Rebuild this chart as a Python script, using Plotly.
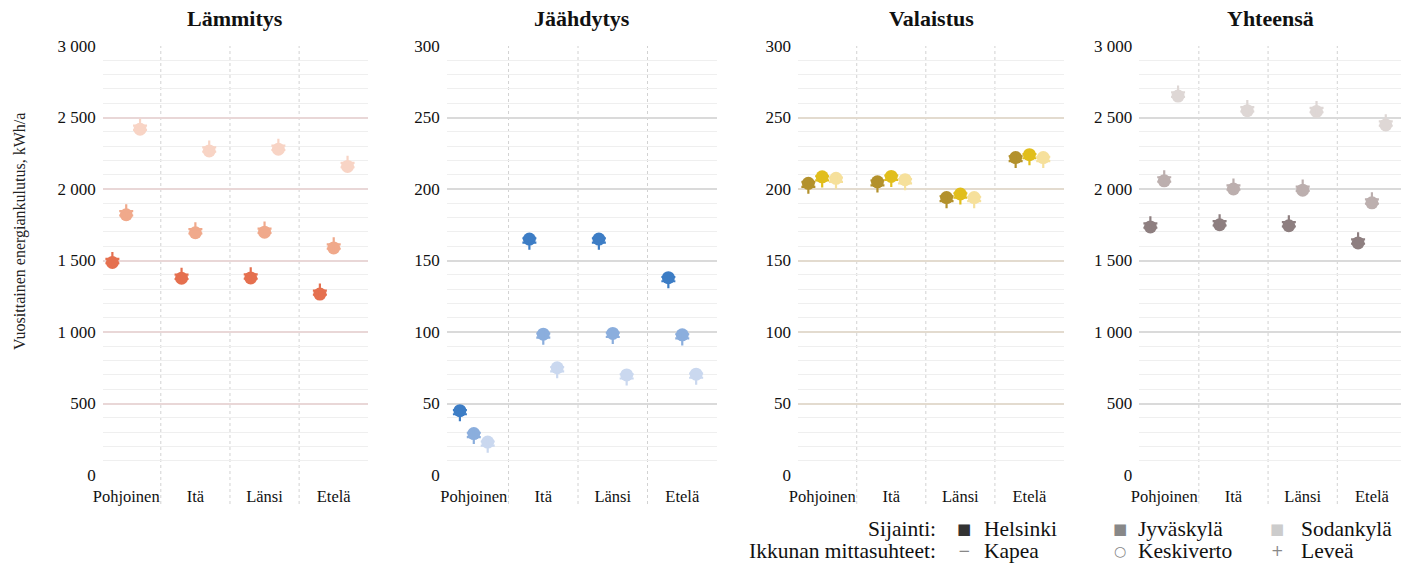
import plotly.graph_objects as go

# ---------------- data ----------------
panels = ["Lämmitys", "Jäähdytys", "Valaistus", "Yhteensä"]
directions = ["Pohjoinen", "Itä", "Länsi", "Etelä"]
locations = ["Helsinki", "Jyväskylä", "Sodankylä"]
ratios = ["Kapea", "Keskiverto", "Leveä"]

# each list: rows = locations (Helsinki, Jyväskylä, Sodankylä), columns = directions
lammitys_kapea      = [[1480, 1370, 1372, 1260], [1814, 1688, 1692, 1582], [2412, 2260, 2272, 2152]]
lammitys_keskiverto = [[1486, 1376, 1378, 1265], [1820, 1694, 1698, 1588], [2418, 2266, 2278, 2158]]
lammitys_levea      = [[1511, 1401, 1403, 1290], [1845, 1719, 1723, 1613], [2443, 2291, 2303, 2183]]

jaahdytys_kapea      = [[45.5, 165.5, 165.5, 138.5], [29.5, 99.0, 99.5, 98.5], [23.5, 75.5, 70.5, 71.0]]
jaahdytys_keskiverto = [[45.0, 165.0, 165.0, 138.0], [29.0, 98.5, 99.0, 98.0], [23.0, 75.0, 70.0, 70.5]]
jaahdytys_levea      = [[42.5, 162.5, 162.5, 135.5], [26.5, 96.0, 96.5, 95.5], [20.5, 72.5, 67.5, 68.0]]

valaistus_kapea      = [[205.0, 206.0, 195.0, 223.0], [209.0, 209.5, 197.0, 224.5], [208.0, 207.0, 194.5, 222.5]]
valaistus_keskiverto = [[204.0, 205.0, 194.0, 222.0], [208.5, 208.8, 196.5, 224.0], [207.5, 206.5, 194.0, 222.0]]
valaistus_levea      = [[201.5, 202.5, 191.5, 219.5], [206.0, 206.3, 194.0, 221.5], [205.0, 204.0, 191.5, 219.5]]

yhteensa_kapea      = [[1729, 1744, 1737, 1617], [2051, 1994, 1986, 1897], [2644, 2542, 2536, 2442]]
yhteensa_keskiverto = [[1735, 1750, 1743, 1623], [2057, 2000, 1992, 1903], [2650, 2548, 2542, 2448]]
yhteensa_levea      = [[1760, 1775, 1768, 1648], [2082, 2025, 2017, 1928], [2675, 2573, 2567, 2473]]

panel_values = [
    [lammitys_kapea, lammitys_keskiverto, lammitys_levea],
    [jaahdytys_kapea, jaahdytys_keskiverto, jaahdytys_levea],
    [valaistus_kapea, valaistus_keskiverto, valaistus_levea],
    [yhteensa_kapea, yhteensa_keskiverto, yhteensa_levea],
]

big_tickvals = [0, 500, 1000, 1500, 2000, 2500, 3000]
big_ticktext = ["0", "500", "1 000", "1 500", "2 000", "2 500", "3 000"]
small_tickvals = [0, 50, 100, 150, 200, 250, 300]
small_ticktext = ["0", "50", "100", "150", "200", "250", "300"]

y_title = "Vuosittainen energiankulutus, kWh/a"

# ---------------- styles ----------------
W, H = 1404, 563
FONT = "Liberation Serif, Times New Roman, serif"

colors = [
    ["#E5704F", "#F0A98B", "#F8D4C5"],
    ["#3D7DC5", "#8BAEDD", "#CAD8EF"],
    ["#B3912C", "#E1BE1C", "#F6E09B"],
    ["#8E7F80", "#BCAFAE", "#DED7D5"],
]
major_grid = ["#E9D7D7", "#DADADA", "#E3DBCF", "#DADADA"]
minor_grid = "#EFEFEF"

dom_px = [(102.7, 368.3), (446.7, 717.0), (798.0, 1064.0), (1139.3, 1401.0)]
xranges = [[-0.34, 3.5], [-0.39, 3.5], [-0.35, 3.5], [-0.36, 3.42]]
y_dom = [(H - 475) / H, (H - 46) / H]
loc_offset = [-0.2, 0.0, 0.2]

ratio_marker = {
    "Kapea": dict(symbol="line-ew", size=10, line=dict(width=2)),
    "Keskiverto": dict(symbol="circle", size=13, line=dict(width=0)),
    "Leveä": dict(symbol="cross-thin", size=10, line=dict(width=2.2)),
}

fig = go.Figure()
layout = dict()
shapes = []
annotations = []

for p, name in enumerate(panels):
    ax = "" if p == 0 else str(p + 1)
    for li, loc in enumerate(locations):
        for ri, r in enumerate(ratios):
            vals = panel_values[p][ri][li]
            xs = [d + loc_offset[li] for d in range(len(directions))]
            m = dict(ratio_marker[r])
            m["color"] = colors[p][li]
            m["line"] = dict(m["line"], color=colors[p][li])
            fig.add_trace(go.Scatter(
                x=xs, y=vals, mode="markers", marker=m,
                name=f"{loc} – {r}", showlegend=False,
                xaxis="x" + ax, yaxis="y" + ax,
                hovertemplate=f"{name}<br>{loc}, {r}<br>%{{y}} kWh/a<extra></extra>",
            ))
    x0, x1 = dom_px[p]
    big = p in (0, 3)
    layout["xaxis" + ax] = dict(
        domain=[x0 / W, x1 / W], range=xranges[p], anchor="y" + ax,
        tickvals=list(range(len(directions))), ticktext=directions,
        showgrid=False, zeroline=False, showline=False, ticks="",
        ticklabelstandoff=9,
        tickfont=dict(family=FONT, size=16.5, color="#111"),
        automargin=False, fixedrange=True,
    )
    layout["yaxis" + ax] = dict(
        domain=list(y_dom), range=[0, 3000 if big else 300], anchor="x" + ax,
        tickvals=big_tickvals if big else small_tickvals,
        ticktext=big_ticktext if big else small_ticktext,
        showgrid=True, gridcolor=major_grid[p], gridwidth=2,
        minor=dict(dtick=100 if big else 10, showgrid=True, gridcolor=minor_grid, gridwidth=1, ticks=""),
        zeroline=False, showline=False, ticks="",
        ticklabelstandoff=6,
        tickfont=dict(family=FONT, size=17, color="#111"),
        automargin=False, fixedrange=True,
    )
    for s in (0.5, 1.5, 2.5):
        shapes.append(dict(type="line", xref="x" + ax, yref="paper",
                           x0=s, x1=s, y0=(H - 504) / H, y1=y_dom[1],
                           line=dict(color="#D2D2D2", width=1, dash="dot"), layer="below"))
    annotations.append(dict(text=f"<b>{name}</b>", x=(x0 + x1) / 2 / W, y=(H - 19) / H,
                            xref="paper", yref="paper", xanchor="center", yanchor="middle",
                            showarrow=False, font=dict(family=FONT, size=22, color="#111")))

annotations.append(dict(text=y_title, x=20 / W, y=(H - 232) / H, xref="paper", yref="paper",
                        textangle=-90, showarrow=False, xanchor="center", yanchor="middle",
                        font=dict(family=FONT, size=16, color="#222")))

# legend built from text
leg_font = dict(family=FONT, size=21.5, color="#111")
row_y = [(H - 529) / H, (H - 551) / H]
leg_rows = [
    ("Sijainti:", [("■", "#333333", "Helsinki"), ("■", "#888888", "Jyväskylä"), ("■", "#CCCCCC", "Sodankylä")]),
    ("Ikkunan mittasuhteet:", [("−", "#888888", "Kapea"), ("○", "#888888", "Keskiverto"), ("+", "#888888", "Leveä")]),
]
sym_x = [964, 1120, 1277]
txt_x = [982, 1136, 1299]
for ri, (title, items) in enumerate(leg_rows):
    annotations.append(dict(text=title, x=938 / W, y=row_y[ri], xref="paper", yref="paper",
                            xanchor="right", yanchor="middle", showarrow=False, font=leg_font))
    for k, (sym, col, lab) in enumerate(items):
        annotations.append(dict(text=sym, x=sym_x[k] / W, y=row_y[ri], xref="paper", yref="paper",
                                xanchor="center", yanchor="middle", showarrow=False,
                                font=dict(family="DejaVu Sans", size=15 if sym != "○" else 14,
                                          color=col)))
        annotations.append(dict(text=lab, x=txt_x[k] / W, y=row_y[ri], xref="paper", yref="paper",
                                xanchor="left", yanchor="middle", showarrow=False, font=leg_font))

fig.update_layout(
    **layout,
    width=W, height=H,
    margin=dict(l=0, r=0, t=0, b=0),
    plot_bgcolor="white", paper_bgcolor="white",
    shapes=shapes, annotations=annotations,
    showlegend=False,
)

fig.write_html("out.html", config={"displayModeBar": False},
               post_script="document.body.style.margin='0';document.body.style.overflow='hidden';")
